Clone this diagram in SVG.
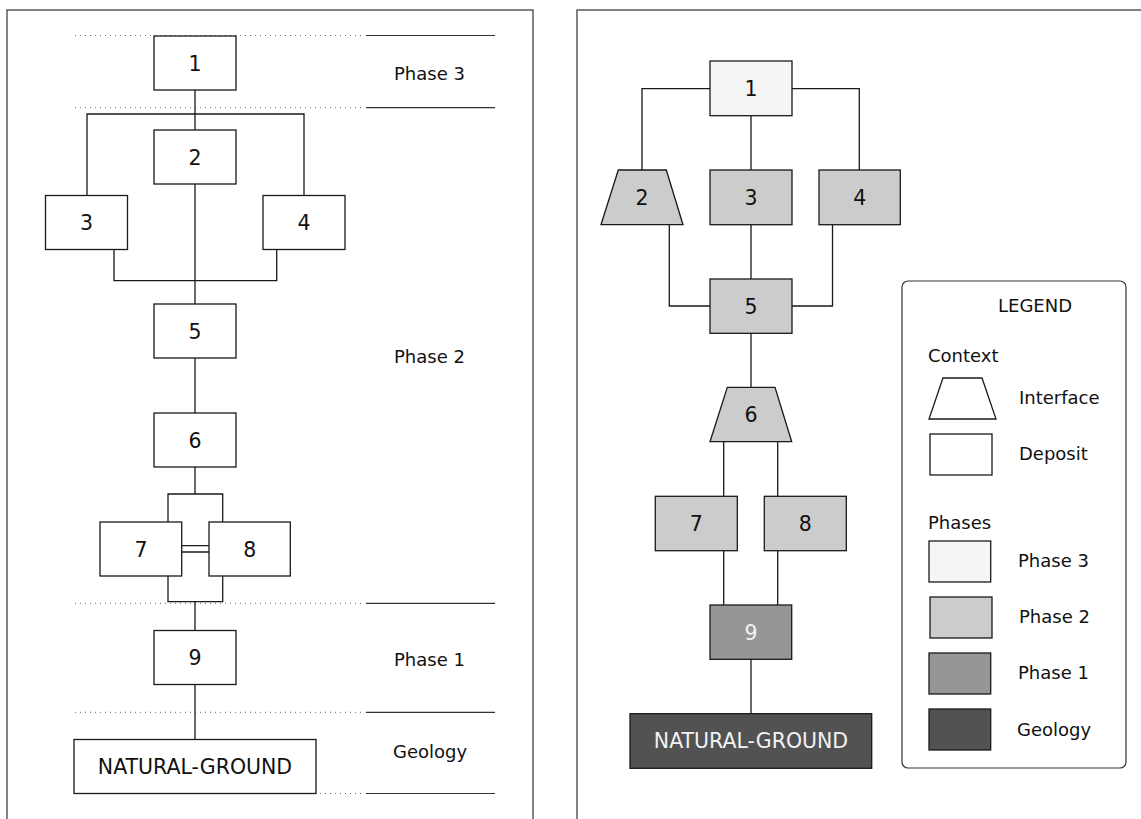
<svg xmlns="http://www.w3.org/2000/svg" width="1141" height="819" viewBox="0 0 1141 819">
<style>
  text { font-family: "DejaVu Sans", "Liberation Sans", sans-serif; font-size: 18px; fill: #111; }
  .n { text-anchor: middle; font-size: 20.5px; }
  .wt { fill: #f2f2f2; }
  .box { stroke: #1a1a1a; stroke-width: 1.3; fill: #ffffff; }
  .p3 { fill: #f5f5f5; }
  .p2 { fill: #cccccc; }
  .p1 { fill: #969696; }
  .geo { fill: #525252; }
  .frame { fill: none; stroke: #333; stroke-width: 1.2; }
  .con { fill: none; stroke: #1a1a1a; stroke-width: 1.3; }
  .dot { stroke: #666; stroke-width: 1; stroke-dasharray: 1 4; }
  .sol { stroke: #333; stroke-width: 1.2; }
</style>
<rect width="1141" height="819" fill="#ffffff"/>
<rect class="frame" x="7" y="10" width="526" height="830"/>
<rect class="frame" x="577" y="10" width="600" height="830"/>

<g id="phase-lines">
  <line class="dot" x1="75" y1="35.5" x2="362" y2="35.5"/>
  <line class="dot" x1="75" y1="107.7" x2="362" y2="107.7"/>
  <line class="dot" x1="75" y1="603.3" x2="362" y2="603.3"/>
  <line class="dot" x1="75" y1="712.3" x2="362" y2="712.3"/>
  <line class="dot" x1="75" y1="793.5" x2="362" y2="793.5"/>
  <line class="sol" x1="366" y1="35.5" x2="495" y2="35.5"/>
  <line class="sol" x1="366" y1="107.7" x2="495" y2="107.7"/>
  <line class="sol" x1="366" y1="603.3" x2="495" y2="603.3"/>
  <line class="sol" x1="366" y1="712.3" x2="495" y2="712.3"/>
  <line class="sol" x1="366" y1="793.5" x2="495" y2="793.5"/>
  <text x="394" y="80">Phase 3</text>
  <text x="394" y="363">Phase 2</text>
  <text x="394" y="666">Phase 1</text>
  <text x="393" y="758">Geology</text>
</g>

<g id="connectors-left">
  <path class="con" d="M195 90 V130 M87 195.5 V114 H304 V195.5"/>
  <path class="con" d="M195 184 V304"/>
  <path class="con" d="M114 249.5 V280.7 H276.7 V249.5"/>
  <path class="con" d="M195 358 V413"/>
  <path class="con" d="M195 467 V494 M168 522 V494 H222.7 V522"/>
  <path class="con" d="M168 576 V601.7 H222.7 V576 M195 601.7 V630.5"/>
  <path class="con" d="M181.7 545.7 H209 M181.7 552 H209"/>
  <path class="con" d="M195 684.5 V739.5"/>
</g>

<g id="left-1"><rect class="box" x="154" y="36" width="82" height="54"/><text class="n" x="195" y="70.5">1</text></g>
<g id="left-2"><rect class="box" x="154" y="130" width="82" height="54"/><text class="n" x="195" y="164.5">2</text></g>
<g id="left-3"><rect class="box" x="45.5" y="195.5" width="82" height="54"/><text class="n" x="86.5" y="230">3</text></g>
<g id="left-4"><rect class="box" x="263" y="195.5" width="82" height="54"/><text class="n" x="304" y="230">4</text></g>
<g id="left-5"><rect class="box" x="154" y="304" width="82" height="54"/><text class="n" x="195" y="338.5">5</text></g>
<g id="left-6"><rect class="box" x="154" y="413" width="82" height="54"/><text class="n" x="195" y="447.5">6</text></g>
<g id="left-7"><rect class="box" x="100" y="522" width="81.7" height="54"/><text class="n" x="141" y="556.5">7</text></g>
<g id="left-8"><rect class="box" x="209" y="522" width="81.3" height="54"/><text class="n" x="249.7" y="556.5">8</text></g>
<g id="left-9"><rect class="box" x="154" y="630.5" width="82" height="54"/><text class="n" x="195" y="665">9</text></g>
<g id="left-ng"><rect class="box" x="74" y="739.5" width="242" height="54"/><text class="n" x="195" y="774">NATURAL-GROUND</text></g>

<g id="connectors-right">
  <path class="con" d="M710 88.7 H642 V170"/>
  <path class="con" d="M751 115.7 V170"/>
  <path class="con" d="M792 88.7 H859.3 V170"/>
  <path class="con" d="M669.3 224.7 V306 H710"/>
  <path class="con" d="M751 224.7 V279"/>
  <path class="con" d="M832.5 224.7 V306 H792"/>
  <path class="con" d="M751 333.3 V387.3"/>
  <path class="con" d="M723.7 441.7 V496.3 M777.7 441.7 V496.3"/>
  <path class="con" d="M723.7 550.7 V605 M777.7 550.7 V605"/>
  <path class="con" d="M751 659.3 V713.7"/>
</g>

<g id="right-1"><rect class="box p3" x="710" y="61" width="82" height="54.7"/><text class="n" x="751" y="96">1</text></g>
<g id="right-2"><polygon class="box p2" points="618.3,170 666.3,170 683,224.7 601,224.7"/><text class="n" x="642" y="205">2</text></g>
<g id="right-3"><rect class="box p2" x="710" y="170" width="82" height="54.7"/><text class="n" x="751" y="205">3</text></g>
<g id="right-4"><rect class="box p2" x="819" y="170" width="81.3" height="54.7"/><text class="n" x="859.7" y="205">4</text></g>
<g id="right-5"><rect class="box p2" x="710" y="279" width="82" height="54.3"/><text class="n" x="751" y="313.5">5</text></g>
<g id="right-6"><polygon class="box p2" points="727.3,387.3 775,387.3 791.7,441.7 710,441.7"/><text class="n" x="751" y="422">6</text></g>
<g id="right-7"><rect class="box p2" x="655.3" y="496.3" width="82" height="54.4"/><text class="n" x="696.3" y="531">7</text></g>
<g id="right-8"><rect class="box p2" x="764.3" y="496.3" width="82" height="54.4"/><text class="n" x="805.3" y="531">8</text></g>
<g id="right-9"><rect class="box p1" x="710" y="605" width="81.7" height="54.3"/><text class="n wt" x="751" y="639.5">9</text></g>
<g id="right-ng"><rect class="box geo" x="630" y="713.7" width="241.7" height="54.6"/><text class="n wt" x="751" y="748">NATURAL-GROUND</text></g>

<g id="legend">
  <rect x="902" y="281" width="224" height="487" rx="6" fill="#ffffff" stroke="#333" stroke-width="1.2"/>
  <text x="998" y="312">LEGEND</text>
  <text x="928" y="362">Context</text>
  <polygon class="box" points="943,378 982,378 996,419 929,419"/>
  <text x="1019" y="404">Interface</text>
  <rect class="box" x="930" y="434" width="62" height="41"/>
  <text x="1019" y="460">Deposit</text>
  <text x="928" y="529">Phases</text>
  <rect class="box p3" x="929" y="541" width="61.7" height="41"/>
  <text x="1018" y="567">Phase 3</text>
  <rect class="box p2" x="930" y="597" width="62" height="41"/>
  <text x="1019" y="623">Phase 2</text>
  <rect class="box p1" x="929" y="653" width="61.7" height="41"/>
  <text x="1018" y="679">Phase 1</text>
  <rect class="box geo" x="929" y="709" width="61.7" height="41"/>
  <text x="1017" y="736">Geology</text>
</g>
</svg>
